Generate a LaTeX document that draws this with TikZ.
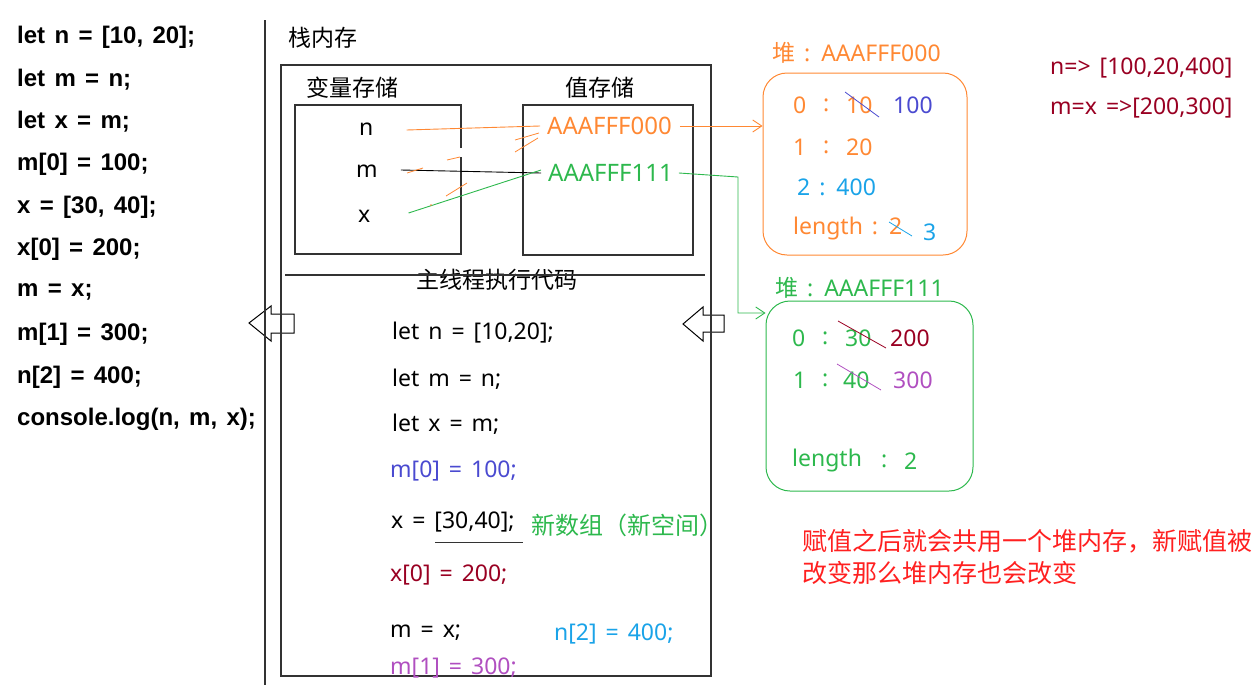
\documentclass[tikz,border=0pt]{standalone}
\usepackage{fontspec}
\setmainfont{Noto Sans}[WordSpace=1.5]
\newfontfamily\cjk{Noto Sans CJK SC}
\newfontfamily\codebf{Liberation Sans Bold}[WordSpace=1.4]
\usetikzlibrary{arrows.meta}
\definecolor{cor}{HTML}{FF8833}
\definecolor{cgr}{HTML}{2DB84D}
\definecolor{cdr}{HTML}{990022}
\definecolor{cbp}{HTML}{4A4AD0}
\definecolor{clb}{HTML}{1AA3E8}
\definecolor{cpu}{HTML}{B04FC0}
\definecolor{cred}{HTML}{FF2020}
\definecolor{cgray}{HTML}{333333}
\tikzset{
  fs/.style={font=\fontsize{#1}{#1}\selectfont},
  txt/.style={anchor=west, inner sep=0pt, fs=23},
  codeb/.style={anchor=west, inner sep=0pt, font=\codebf\fontsize{24}{24}\selectfont},
  cn/.style={anchor=center, inner sep=0pt, font=\cjk\fontsize{23}{23}\selectfont},
  heapt/.style={txt, fs=23},
  addr/.style={txt, fs=24},
  box/.style={draw=cgray, line width=1.2pt, inner sep=0pt},
  hbox/.style={draw, line width=1pt, rounded corners=24pt, inner sep=0pt},
  link/.style={line width=0.9pt},
  tipa/.style={-{Straight Barb[length=9pt,width=12pt]}},
  hollow/.style={draw=black, line width=1pt, fill=white},
}
\begin{document}
\begin{tikzpicture}[x=1pt,y=-1pt]
\useasboundingbox (0,0) rectangle (1260,699);
% left code
\foreach \t [count=\i from 0] in {let n = [10{,} 20];,let m = n;,let x = m;,m[0] = 100;,x = [30{,} 40];,x[0] = 200;,m = x;,m[1] = 300;,n[2] = 400;,console.log(n{,} m{,} x);}
  \node[codeb] (lc\i) at (17,37+42.5*\i) {\t};
% divider
\coordinate (dt) at (265,20);
\coordinate (db) at (265,685);
% stack
\node[cn, anchor=west] (stitle) at (288,38) {栈内存};
\node[box, minimum width=430, minimum height=611] (stack) at (496,370.5) {};
\node[cn] (vtitle) at (352,88) {变量存储};
\node[cn] (ztitle) at (600,88) {值存储};
\draw[box] (461,148) -- (461,105) -- (295,105) -- (295,254) -- (461,254) -- (461,157);
\node[box, minimum width=170, minimum height=150] (valbox) at (608,180) {};
\node[txt] (vn) at (359,129) {n};
\node[txt] (vm) at (356,171) {m};
\node[txt] (vx) at (358,216) {x};
\node[addr, text=cor] (a0) at (547,126) {AAAFFF000};
\node[addr, text=cgr] (a1) at (548,173) {AAAFFF111};
% links
\draw[link, cor] ([xshift=33pt,yshift=-1pt]vn.east) -- ([xshift=-7pt]a0.west);
\draw[link, black] ([xshift=23pt,yshift=1pt]vm.east) -- ([xshift=-7pt]a1.west);
\draw[link, cgr] ([xshift=38pt,yshift=3pt]vx.east) -- ([xshift=-7pt,yshift=3pt]a1.west);
% orange scratch marks
\draw[cor, line width=0.8pt] (515,140) -- (539,133) (515,152) -- (538,138)
  (407,173) -- (423,168) (447,160) -- (460,157) (446,196) -- (467,183);
\fill[cor] (431,205) circle (0.8);
% horizontal line and title
\node[cn] (mtitle) at (497,280) {主线程执行代码};
\draw[line width=1.2pt, cgray] (285,275) -- (705,275);
% hollow arrows
\draw[hollow] (249,323) -- (271,306) -- (271,314) -- (294,314) -- (294,333) -- (271,333) -- (271,341) -- cycle;
\draw[hollow] (683,324) -- (703,307) -- (703,315) -- (724,315) -- (724,332) -- (703,332) -- (703,341) -- cycle;
\draw[line width=1.2pt, cgray] (dt) -- (db);
\draw[line width=1.2pt, cgray] (281,290) -- (281,360) (711,290) -- (711,360);
% code inside
\node[txt] (c1) at (392,333) {let n = [10,20];};
\node[txt] (c2) at (392,379) {let m = n;};
\node[txt] (c3) at (392,424) {let x = m;};
\node[txt, text=cbp] (c4) at (390,471) {m[0] = 100;};
\node[txt] (c5) at (391,522) {x = [30,40];};
\draw[line width=1pt, cgray] (435,542) -- (523,542);
\node[cn, anchor=west, font=\cjk\fontsize{24}{24}\selectfont, text=cgr] (c5n) at (531,525) {新数组（新空间）};
\node[txt, text=cdr] (c6) at (390,575) {x[0] = 200;};
\node[txt] (c7) at (390,633) {m = x;};
\node[txt, text=clb] (c8) at (554,634) {n[2] = 400;};
\node[txt, text=cpu] (c9) at (390,668) {m[1] = 300;};
% heap 1
\node[heapt, text=cor] (h1t) at (772,53) {{\cjk 堆} : AAAFFF000};
\node[hbox, draw=cor, minimum width=204, minimum height=182] (h1) at (865,164) {};
\node[heapt, text=cor] (h1k0) at (793,105) {0};
\node[heapt, text=cor] (h1c0) at (823,105) {:};
\node[heapt, text=cor] (h1v0) at (846,105) {10};
\node[heapt, text=cbp] (h1r0b) at (893,105) {100};
\draw[cbp, line width=0.8pt] (845,92) -- (879,117);
\node[heapt, text=cor] (h1k1) at (793,147) {1};
\node[heapt, text=cor] (h1c1) at (823,147) {:};
\node[heapt, text=cor] (h1v1) at (846,147) {20};
\node[heapt, text=clb] (h1r2) at (797,187) {2 : 400};
\node[heapt, text=cor] (h1r3) at (793,229) {length : 2};
\node[heapt, text=clb] (h1r3b) at (923,232) {3};
\draw[clb, line width=0.8pt] (889,222) -- (912,236);
\draw[link, cor, tipa] (a0.east) ++(8pt,0) -- (a0.east -| h1.west);
% heap 2
\node[heapt, text=cgr] (h2t) at (775,288) {{\cjk 堆} : AAAFFF111};
\node[hbox, draw=cgr, minimum width=207, minimum height=190] (h2) at (869.5,396) {};
\node[heapt, text=cgr] (h2k0) at (792,338) {0};
\node[heapt, text=cgr] (h2c0) at (822,338) {:};
\node[heapt, text=cgr] (h2v0) at (845,338) {30};
\node[heapt, text=cdr] (h2r0b) at (890,338) {200};
\draw[cdr, line width=0.8pt] (838,321) -- (886,348);
\node[heapt, text=cgr] (h2k1) at (793,380) {1};
\node[heapt, text=cgr] (h2c1) at (822,380) {:};
\node[heapt, text=cgr] (h2v1) at (843,380) {40};
\node[heapt, text=cpu] (h2r1b) at (893,380) {300};
\draw[cpu, line width=0.8pt] (837,364) -- (881,390);
\node[heapt, text=cgr] (h2k3) at (792,461) {length};
\node[heapt, text=cgr] (h2c3) at (881,461) {:};
\node[heapt, text=cgr] (h2v3) at (904,461) {2};
\coordinate (g1) at (738,177);
\draw[link, cgr, tipa] (a1.east) ++(6pt,0) -- (g1) |- (h2.west |- 0,313);
% top right
\node[txt, text=cdr] (r1) at (1050,68) {n=> [100,20,400]};
\node[txt, text=cdr] (r2) at (1050,108) {m=x =>[200,300]};
% red note
\node[cn, anchor=west, font=\cjk\fontsize{25}{25}\selectfont, text=cred] (note1) at (802,541) {赋值之后就会共用一个堆内存，新赋值被};
\node[cn, anchor=west, font=\cjk\fontsize{25}{25}\selectfont, text=cred] (note2) at (802,573) {改变那么堆内存也会改变};
\end{tikzpicture}
\end{document}
